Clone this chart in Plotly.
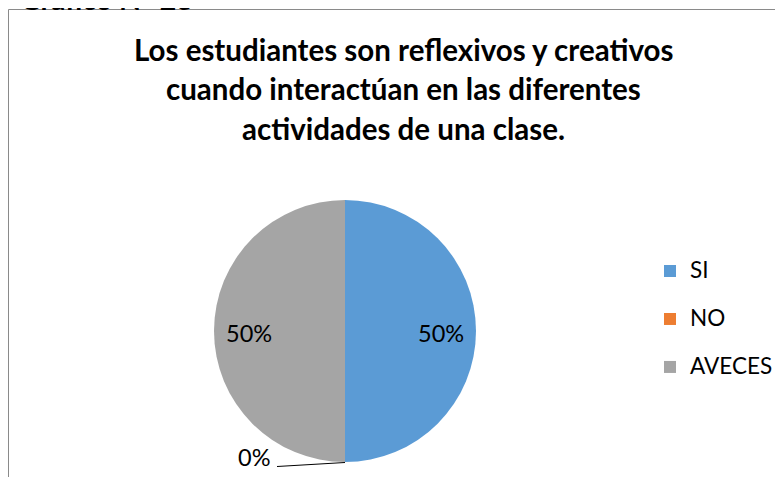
import math
import plotly.graph_objects as go

# ---- data ----
caption = "Gráfico N° 23"
title_lines = [
    "Los estudiantes son reflexivos y creativos",
    "cuando interactúan en las diferentes",
    "actividades de una clase.",
]
labels = ["SI", "NO", "AVECES"]
values = [50, 0, 50]
colors = ["#5B9BD5", "#ED7D31", "#A5A5A5"]

W, H = 783, 477
OFF = 8  # page body margin in the browser
FONT = "Lato, Carlito, 'Liberation Sans', sans-serif"

def px(x):
    return (x - OFF) / W

def py(y):
    return (H - (y - OFF)) / H

cx, cy, r = 345, 331, 131
total = sum(values)
pct = [v / total for v in values]

legend_labels = [
    f"<span style='font-size:22.5px;baseline-shift:6px'>{l}</span>" for l in labels
]

fig = go.Figure(
    go.Pie(
        labels=legend_labels,
        values=values,
        sort=False,
        direction="clockwise",
        rotation=0,
        marker=dict(colors=colors, line=dict(width=0)),
        textinfo="none",
        domain=dict(x=[px(cx - r), px(cx + r)], y=[py(cy + r), py(cy - r)]),
        showlegend=True,
        hoverinfo="label+percent",
    )
)

annotations = []
# caption (cut off at top, as in the source)
annotations.append(dict(
    text=f"<b>{caption}</b>", xref="paper", yref="paper",
    x=px(18), y=py(-0.5), xanchor="left", yanchor="middle",
    showarrow=False, font=dict(family=FONT, size=28.5, color="#000000"),
))
# title lines
for line, yc in zip(title_lines, [50, 89, 128]):
    annotations.append(dict(
        text=f"<b>{line}</b>", xref="paper", yref="paper",
        x=px(403), y=py(yc), xanchor="center", yanchor="middle",
        showarrow=False, font=dict(family=FONT, size=29.5, color="#000000"),
    ))
# percentage labels
cum = 0.0
for i, p in enumerate(pct):
    mid = (cum + p / 2) * 2 * math.pi
    cum += p
    if values[i] > 0:
        lx = cx + 0.73 * r * math.sin(mid)
        ly = cy - 0.73 * r * math.cos(mid) + 2
        annotations.append(dict(
            text=f"{p:.0%}", xref="paper", yref="paper",
            x=px(lx), y=py(ly), xanchor="center", yanchor="middle",
            showarrow=False, font=dict(family=FONT, size=23.5, color="#000000"),
        ))
    else:
        annotations.append(dict(
            text=f"{p:.0%}", xref="paper", yref="paper",
            x=px(254), y=py(457), xanchor="center", yanchor="middle",
            showarrow=False, font=dict(family=FONT, size=23.5, color="#000000"),
        ))

shapes = [
    dict(type="rect", xref="paper", yref="paper",
         x0=px(8.5), x1=1.05, y0=-0.05, y1=py(9.5),
         line=dict(color="#8A8A8A", width=1), fillcolor="rgba(0,0,0,0)"),
    dict(type="line", xref="paper", yref="paper",
         x0=px(277), y0=py(466.5), x1=px(345), y1=py(462.5),
         line=dict(color="#000000", width=1)),
]

fig.update_layout(
    width=W, height=H,
    margin=dict(l=0, r=0, t=0, b=0),
    paper_bgcolor="#FFFFFF",
    plot_bgcolor="#FFFFFF",
    font=dict(family=FONT, color="#000000"),
    showlegend=True,
    legend=dict(
        x=px(650), y=py(319), xanchor="left", yanchor="middle",
        font=dict(family=FONT, size=34.6, color="#000000"),
        bgcolor="rgba(0,0,0,0)", borderwidth=0,
        traceorder="normal",
    ),
    annotations=annotations,
    shapes=shapes,
)

fig.write_html("out.html")
